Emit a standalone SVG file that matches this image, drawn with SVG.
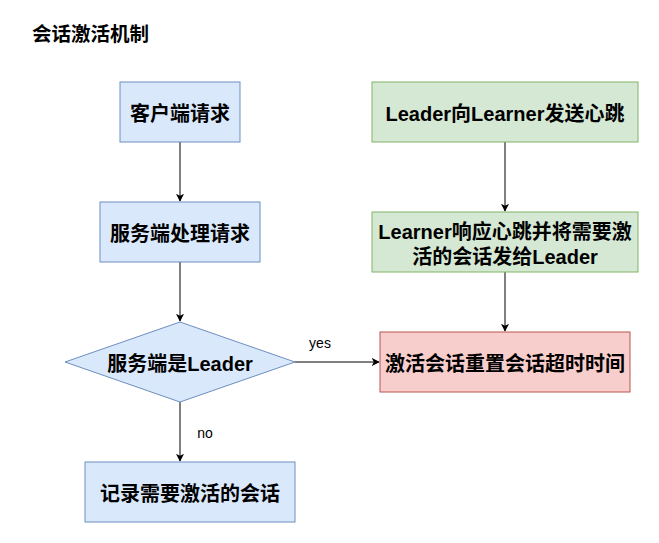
<svg xmlns="http://www.w3.org/2000/svg" width="659" height="543" viewBox="0 0 659 543">
<defs>
<style>
.t{font-family:"Liberation Sans","Noto Sans CJK SC",sans-serif;font-weight:bold;font-size:20px;fill:#000;text-anchor:middle;dominant-baseline:central}
.blue{fill:#dae8fc;stroke:#6c8ebf;stroke-width:1}
.green{fill:#d5e8d4;stroke:#82b366;stroke-width:1}
.red{fill:#f8cecc;stroke:#b85450;stroke-width:1}
.e{fill:none;stroke:#000;stroke-width:1}
.lbl{font-family:"Liberation Sans","Noto Sans CJK SC",sans-serif;font-size:14px;fill:#000;text-anchor:middle;dominant-baseline:central}
</style>
<marker id="arr" viewBox="0 0 10 10" refX="9" refY="5" markerWidth="8" markerHeight="8" markerUnits="userSpaceOnUse" orient="auto">
<path d="M0,0 L10,5 L0,10 L2.5,5 Z" fill="#000"/>
</marker>
</defs>
<rect width="659" height="543" fill="#fff"/>
<text x="32" y="34" class="t" style="text-anchor:start;font-size:19.5px">会话激活机制</text>
<g id="edges">
<line class="e" x1="180" y1="142" x2="180" y2="201" marker-end="url(#arr)"/>
<line class="e" x1="180" y1="262" x2="180" y2="321" marker-end="url(#arr)"/>
<line class="e" x1="180" y1="402" x2="180" y2="461" marker-end="url(#arr)"/>
<line class="e" x1="295" y1="362" x2="379" y2="362" marker-end="url(#arr)"/>
<line class="e" x1="505" y1="142" x2="505" y2="211" marker-end="url(#arr)"/>
<line class="e" x1="505" y1="272" x2="505" y2="331" marker-end="url(#arr)"/>
<text class="lbl" x="320" y="343">yes</text>
<text class="lbl" x="205" y="433">no</text>
</g>
<g id="n1"><rect class="blue" x="120" y="82" width="120" height="60"/><text class="t" x="180" y="113.5">客户端请求</text></g>
<g id="n2"><rect class="blue" x="100" y="202" width="160" height="60"/><text class="t" x="180" y="233.5">服务端处理请求</text></g>
<g id="n3"><path class="blue" d="M180,322 L295,362 L180,402 L65,362 Z"/><text class="t" x="180" y="363.5">服务端是Leader</text></g>
<g id="n4"><rect class="blue" x="85" y="462" width="210" height="60"/><text class="t" x="190" y="493.5">记录需要激活的会话</text></g>
<g id="n5"><rect class="green" x="372" y="82" width="266" height="60"/><text class="t" x="505" y="113.5">Leader向Learner发送心跳</text></g>
<g id="n6"><rect class="green" x="372" y="212" width="266" height="60"/><text class="t" x="505" y="231.5">Learner响应心跳并将需要激</text><text class="t" x="505" y="256.5">活的会话发给Leader</text></g>
<g id="n7"><rect class="red" x="380" y="332" width="250" height="60"/><text class="t" x="505" y="363.5">激活会话重置会话超时时间</text></g>
</svg>
